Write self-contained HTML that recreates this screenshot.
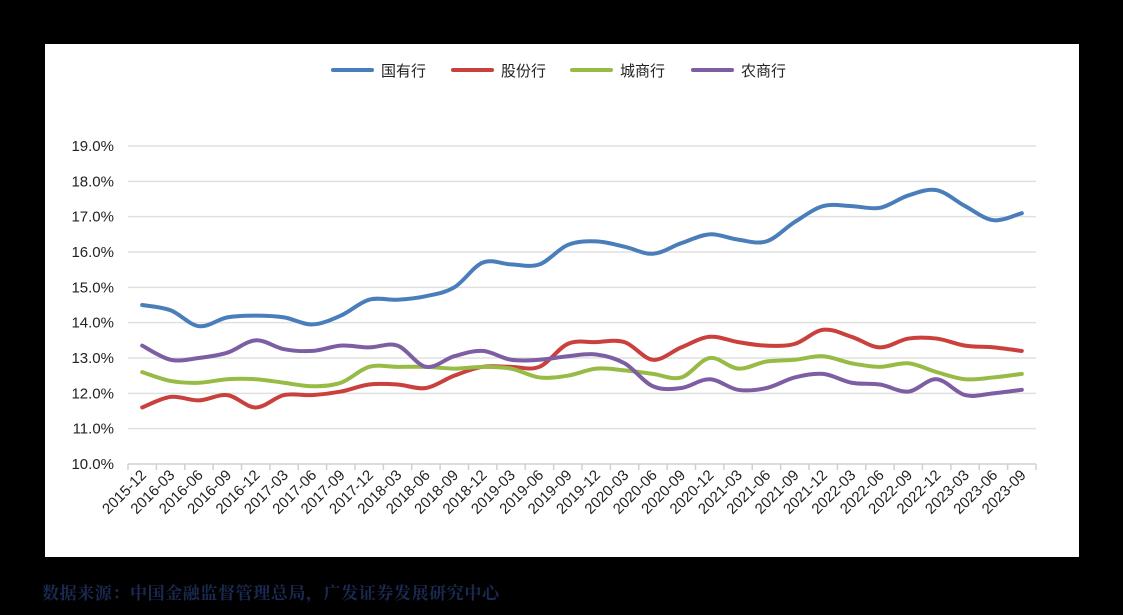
<!DOCTYPE html>
<html><head><meta charset="utf-8"><style>
body{margin:0;background:#000;width:1123px;height:615px;overflow:hidden;font-family:"Liberation Sans","Noto Sans CJK SC",sans-serif}
#panel{position:absolute;left:45px;top:44px;width:1034px;height:513px;background:#fff}
#src{position:absolute;left:42px;top:579px;color:#1b2a52;font-size:17px;font-family:"Noto Serif CJK SC","Noto Sans CJK SC",serif;font-weight:bold;letter-spacing:0.6px}
</style></head><body>
<div id="panel"></div>
<svg id="chart" width="1123" height="615" style="position:absolute;left:0;top:0"></svg>
<div id="src">数据来源：中国金融监督管理总局，广发证券发展研究中心</div>
<script>
const categories=["2015-12","2016-03","2016-06","2016-09","2016-12","2017-03","2017-06","2017-09","2017-12","2018-03","2018-06","2018-09","2018-12","2019-03","2019-06","2019-09","2019-12","2020-03","2020-06","2020-09","2020-12","2021-03","2021-06","2021-09","2021-12","2022-03","2022-06","2022-09","2022-12","2023-03","2023-06","2023-09"];
const seriesNames=["国有行","股份行","城商行","农商行"];
const stateOwned=[14.5,14.35,13.9,14.15,14.2,14.15,13.95,14.2,14.65,14.65,14.75,15.0,15.7,15.65,15.65,16.2,16.3,16.15,15.95,16.25,16.5,16.35,16.3,16.85,17.3,17.3,17.25,17.6,17.75,17.3,16.9,17.1];
const jointStock=[11.6,11.9,11.8,11.95,11.6,11.95,11.95,12.05,12.25,12.25,12.15,12.5,12.75,12.75,12.75,13.4,13.45,13.45,12.95,13.3,13.6,13.45,13.35,13.4,13.8,13.6,13.3,13.55,13.55,13.35,13.3,13.2];
const cityComm=[12.6,12.35,12.3,12.4,12.4,12.3,12.2,12.3,12.75,12.75,12.75,12.7,12.75,12.7,12.45,12.5,12.7,12.65,12.55,12.45,13.0,12.7,12.9,12.95,13.05,12.85,12.75,12.85,12.6,12.4,12.45,12.55];
const ruralComm=[13.35,12.95,13.0,13.15,13.5,13.25,13.2,13.35,13.3,13.35,12.75,13.05,13.2,12.95,12.95,13.05,13.1,12.85,12.2,12.15,12.4,12.1,12.15,12.45,12.55,12.3,12.25,12.05,12.4,11.95,12.0,12.1];
const yTicks=[10,11,12,13,14,15,16,17,18,19];
const colors=["#4a7ebb","#c9403c","#98bb45","#7d5ea3"];
const svg=document.getElementById('chart');
const NS="http://www.w3.org/2000/svg";
const L=128,R=1036,T=146,B=464,yMin=10,yMax=19;
const bw=(R-L)/categories.length;
const xS=i=>L+bw*(i+0.5);
const yS=v=>B-(v-yMin)/(yMax-yMin)*(B-T);
function mk(tag,attrs,txt){const e=document.createElementNS(NS,tag);for(const k in attrs)e.setAttribute(k,attrs[k]);if(txt!==undefined)e.textContent=txt;svg.appendChild(e);return e;}
yTicks.forEach(v=>{
  const g=mk('line',{x1:L,x2:R,y1:yS(v),y2:yS(v),stroke:v===yMin?'#d0d0d0':'#e0e0e0','stroke-width':1.5});
  
  
  const t=mk('text',{x:114,y:yS(v)+5,'text-anchor':'end','font-size':15,fill:'#222'},v.toFixed(1)+'%');
  
  
});
for(let i=0;i<=categories.length;i++){
  const tk=mk('line',{x1:L+bw*i,x2:L+bw*i,y1:B,y2:B+6,stroke:'#d0d0d0','stroke-width':1.5});
  
  
}
categories.forEach((c,i)=>{
  const x=xS(i)+5,y=B+12;
  const t=mk('text',{x:x,y:y,'text-anchor':'end','font-size':15,fill:'#222',transform:`rotate(-45 ${x} ${y})`},c);
  
  
});
function path(vals){
  const p=vals.map((v,i)=>[xS(i),yS(v)]);
  let d=`M${p[0][0]},${p[0][1]}`;
  for(let i=0;i<p.length-1;i++){
    const p0=p[i-1]||p[i],p1=p[i],p2=p[i+1],p3=p[i+2]||p2;
    const k=6;
    d+=` C${p1[0]+(p2[0]-p0[0])/k},${p1[1]+(p2[1]-p0[1])/k} ${p2[0]-(p3[0]-p1[0])/k},${p2[1]-(p3[1]-p1[1])/k} ${p2[0]},${p2[1]}`;
  }
  return d;
}
const allSeries=[stateOwned,jointStock,cityComm,ruralComm];
const lineNames=['series-state-owned','series-joint-stock','series-city-commercial','series-rural-commercial'];
allSeries.forEach((s,k)=>{
  const e=mk('path',{d:path(s),fill:'none',stroke:colors[k],'stroke-width':4,'stroke-linejoin':'round','stroke-linecap':'round'});
  
  
});
const legX=[333,453,572,693];
seriesNames.forEach((n,k)=>{
  const l=mk('line',{x1:legX[k],x2:legX[k]+39,y1:70,y2:70,stroke:colors[k],'stroke-width':4,'stroke-linecap':'round'});
  
  
  const t=mk('text',{x:legX[k]+48,y:76,'font-size':15,fill:'#222'},n);
  
  
});
</script>
</body></html>
